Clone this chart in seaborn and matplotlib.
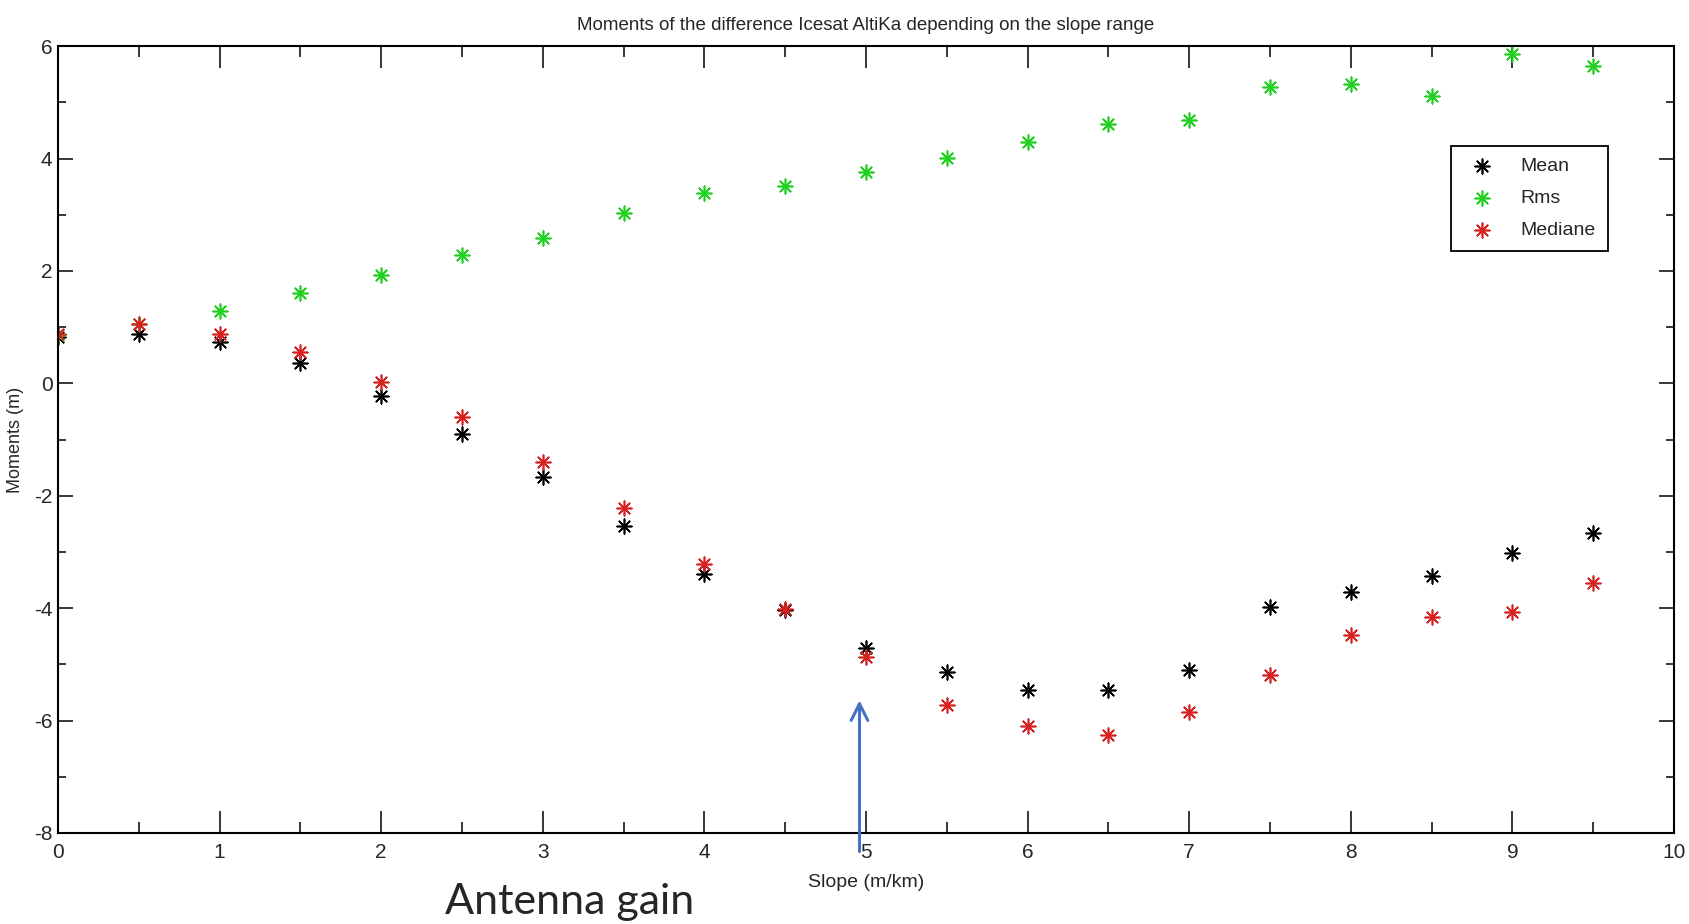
import numpy as np
import pandas as pd
import seaborn as sns
import matplotlib.pyplot as plt
from matplotlib.ticker import MultipleLocator


# data          -------------------------------------------------------------------------
slope = [0, 0.5, 1, 1.5, 2, 2.5, 3, 3.5, 4, 4.5, 5, 5.5, 6, 6.5, 7, 7.5, 8, 8.5, 9, 9.5]
mean_vals = [0.82, 0.88, 0.73, 0.36, -0.23, -0.90, -1.67, -2.53, -3.40, -4.03,
             -4.70, -5.14, -5.45, -5.45, -5.10, -3.97, -3.72, -3.42, -3.01, -2.67]
rms_vals = [0.86, 1.05, 1.28, 1.61, 1.93, 2.28, 2.59, 3.03, 3.39, 3.51,
            3.76, 4.01, 4.29, 4.62, 4.68, 5.27, 5.33, 5.12, 5.86, 5.64]
median_vals = [0.88, 1.05, 0.88, 0.55, 0.03, -0.60, -1.40, -2.21, -3.21, -4.01,
               -4.86, -5.72, -6.10, -6.26, -5.85, -5.18, -4.47, -4.15, -4.07, -3.55]

series_names = ["Mean", "Rms", "Mediane"]
series_colors = {"Mean": "#000000", "Rms": "#22d022", "Mediane": "#d82222"}

df = pd.DataFrame({
    "slope": slope * 3,
    "value": mean_vals + rms_vals + median_vals,
    "series": [n for n in series_names for _ in slope],
})

# plot                                 --------------------------------------------------
sns.set_style("ticks")
plt.rcParams["font.family"] = ["Liberation Sans", "DejaVu Sans"]
plt.rcParams["axes.unicode_minus"] = False

fig = plt.figure(figsize=(16.89, 9.24), dpi=100)
ax = fig.add_axes([0.0343, 0.0985, 0.9568, 0.8515])

for name in series_names:
    sub = df[df["series"] == name]
    sns.scatterplot(x="slope", y="value", data=sub, ax=ax, color=series_colors[name],
                    marker=(8, 2, 0), s=110, linewidth=1.2, label=name)

ax.set_xlim(0, 10)
ax.set_ylim(-8, 6)
ax.xaxis.set_major_locator(MultipleLocator(1))
ax.xaxis.set_minor_locator(MultipleLocator(0.5))
ax.yaxis.set_major_locator(MultipleLocator(2))
ax.yaxis.set_minor_locator(MultipleLocator(1))

for s in ax.spines.values():
    s.set_visible(True)
    s.set_linewidth(1.5)
    s.set_color("black")

ax.tick_params(axis="x", which="major", direction="in", top=True, bottom=True,
               length=16, width=1.3, labelsize=15, pad=7)
ax.tick_params(axis="x", which="minor", direction="in", top=True, bottom=True,
               length=8, width=1.3)
ax.tick_params(axis="y", which="major", direction="in", left=True, right=True,
               length=11, width=1.3, labelsize=15, pad=4)
ax.tick_params(axis="y", which="minor", direction="in", left=True, right=True,
               length=6, width=1.3)

ax.set_title("Moments of the difference Icesat AltiKa depending on the slope range",
             fontsize=13.5, pad=12)
ax.set_xlabel("Slope (m/km)", fontsize=14)
ax.xaxis.set_label_coords(0.5, -0.052)
ax.set_ylabel("Moments (m)", fontsize=13)
ax.yaxis.set_label_coords(-0.021, 0.5)

leg = ax.legend(loc="upper right", bbox_to_anchor=(0.965, 0.886), fontsize=14,
                frameon=True, fancybox=False, framealpha=1, edgecolor="black",
                handletextpad=1.0, borderpad=0.6, labelspacing=0.75)
leg.get_frame().set_linewidth(1.3)

# antenna gain annotation
ax.annotate("", xy=(4.96, -5.64), xytext=(4.96, -8.33),
            arrowprops=dict(arrowstyle="->", color="#4472c4", lw=2.2,
                            mutation_scale=30, shrinkA=0, shrinkB=0),
            annotation_clip=False)
fig.text(570 / 1689, 1 - 902 / 924, "Antenna gain", ha="center", va="center",
         fontsize=31, family=["Lato", "DejaVu Sans"])

plt.savefig("out.png", dpi=100)
